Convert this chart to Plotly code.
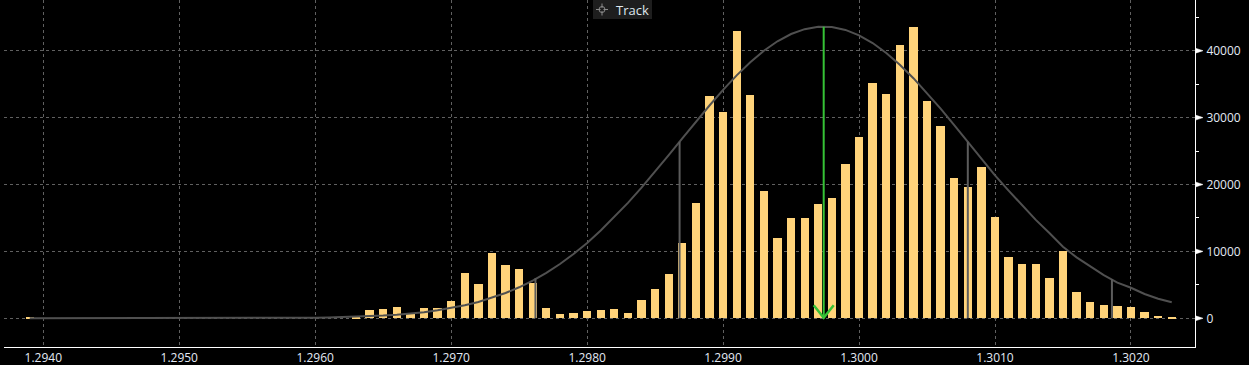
import plotly.graph_objects as go

# ---------------- data ----------------
bin_start = 1.2939
bin_step = 0.0001

counts = [
    80,
    0, 0, 0, 0, 0, 0, 0, 0, 0, 0, 0, 0, 0, 0, 0, 0, 0, 0, 0, 0, 0, 0, 0,
    250, 1240, 1390, 1700, 650, 1540, 1520, 2590, 6770, 5130,
    9760, 7970, 7370, 5280, 1540, 640, 790, 1090, 1240, 1390,
    790, 2740, 4380, 6620, 11250, 17230, 33230, 30840, 42950, 33380,
    19030, 12000, 14990, 14990, 17080, 17980, 23060, 27100, 35170, 33530,
    40850, 43540, 32430, 28690, 20970, 19630, 22620, 15140, 9160, 8120,
    8120, 6030, 10060, 3930, 2440, 1990, 1840, 1690, 940, 340,
    100,
]

curve = [
    0, 0, 0, 0, 0, 0, 0, 0, 1, 1, 2, 3, 4, 6,
    8, 11, 14, 20, 30, 43, 60, 84, 117, 162,
    221, 299, 401, 533, 703, 918, 1188, 1523, 1938, 2443,
    3052, 3777, 4636, 5634, 6793, 8114, 9611, 11270, 13115, 15113,
    17260, 19546, 21932, 24399, 26892, 29378, 31806, 34139, 36310, 38276,
    39986, 41407, 42493, 43221, 43569, 43530, 43107, 42301, 41145, 39667,
    37902, 35892, 33685, 31335, 28889, 26395, 23906, 21360, 19088, 16834,
    14706, 12740, 10700, 9104, 7744, 6457, 5333, 4560, 3628, 2926,
    2400,
]

bins = [round(bin_start + i * bin_step, 4) for i in range(len(counts))]

mean_x = 1.29974
mean_top = 43590
sigma_x = [1.29762, 1.29868, 1.30080, 1.30186]
sigma_top = [5980, 26400, 26400, 5830]

x_tick_vals = [1.2940, 1.2950, 1.2960, 1.2970, 1.2980, 1.2990, 1.3000, 1.3010, 1.3020]
y_tick_vals = [0, 10000, 20000, 30000, 40000]
legend_label = "Track"

# ---------------- layout geometry ----------------
W, H = 1249, 365
ML, MR, MT, MB = 4, 54, 0, 18
PW, PH = W - ML - MR, H - MT - MB


def px_x(p):
    return (p - ML) / PW


def px_y(p):
    return (H - MB - p) / PH


fig = go.Figure()

fig.add_trace(go.Bar(
    x=bins, y=counts, width=bin_step * 0.61,
    marker=dict(color="#ffd37a", line=dict(width=0)),
    hoverinfo="x+y",
))

fig.add_trace(go.Scatter(
    x=bins, y=curve, mode="lines",
    line=dict(color="#505050", width=2),
    hoverinfo="skip",
))

# sigma verticals
sx, sy = [], []
for xv, tv in zip(sigma_x, sigma_top):
    sx += [xv, xv, None]
    sy += [0, tv, None]
fig.add_trace(go.Scatter(
    x=sx, y=sy, mode="lines",
    line=dict(color="#5c5c5c", width=2),
    hoverinfo="skip",
))

# mean line
fig.add_trace(go.Scatter(
    x=[mean_x, mean_x], y=[0, mean_top], mode="lines",
    line=dict(color="#36c236", width=2),
    hoverinfo="skip",
))

shapes = []
# arrow chevron at mean base
shapes.append(dict(
    type="path", xref="x", yref="y", xsizemode="pixel", ysizemode="pixel",
    xanchor=mean_x, yanchor=0,
    path="M-10,13 L0,0.5 L10,13",
    line=dict(color="#36c236", width=2.5),
))

# y-axis triangle markers
for v in y_tick_vals:
    shapes.append(dict(
        type="path", xref="paper", yref="y", xsizemode="pixel", ysizemode="pixel",
        xanchor=1, yanchor=v,
        path="M0.5,-2.5 L0.5,2.5 L8,0 Z",
        fillcolor="white", line=dict(color="white", width=0.5),
    ))

# legend box
shapes.append(dict(
    type="rect", xref="paper", yref="paper", xsizemode="pixel", ysizemode="pixel",
    xanchor=px_x(593), yanchor=1, x0=0, x1=59, y0=0, y1=-19,
    fillcolor="#1e1e1e", line=dict(width=0), layer="above",
))
cx, cy = px_x(602), px_y(9.5)
shapes.append(dict(
    type="circle", xref="paper", yref="paper", xsizemode="pixel", ysizemode="pixel",
    xanchor=cx, yanchor=cy, x0=-3, x1=3, y0=-3, y1=3,
    line=dict(color="#8a8a8a", width=1), layer="above",
))
for seg in ["M-6,0 L-1.5,0", "M1.5,0 L6,0", "M0,-6 L0,-1.5", "M0,1.5 L0,6"]:
    shapes.append(dict(
        type="path", xref="paper", yref="paper", xsizemode="pixel", ysizemode="pixel",
        xanchor=cx, yanchor=cy, path=seg,
        line=dict(color="#8a8a8a", width=1), layer="above",
    ))

annotations = [dict(
    text=legend_label, xref="paper", yref="paper",
    x=px_x(614), y=px_y(9.5), xanchor="left", yanchor="middle",
    showarrow=False, font=dict(family="Open Sans", size=13, color="#dfe7ef"),
)]

tick_font = dict(family="Open Sans", size=12, color="#e3eaf5")

fig.update_layout(
    width=W, height=H,
    margin=dict(l=ML, r=MR, t=MT, b=MB, pad=0, autoexpand=False),
    paper_bgcolor="#000000", plot_bgcolor="#000000",
    showlegend=False, bargap=0,
    shapes=shapes, annotations=annotations,
    xaxis=dict(
        range=[1.293711, 1.302471], automargin=False,
        tickvals=x_tick_vals, tickformat=".4f",
        showgrid=True, gridcolor="#606060", griddash="3px,3px", gridwidth=1,
        zeroline=False, showline=True, linecolor="white", linewidth=1,
        ticks="", ticklabelstandoff=0,
        tickfont=tick_font,
    ),
    yaxis=dict(
        range=[-4290, 47578], side="right", automargin=False,
        tickvals=y_tick_vals, tickformat="d",
        showgrid=True, gridcolor="#606060", griddash="3px,3px", gridwidth=1,
        zeroline=False, showline=True, linecolor="white", linewidth=1,
        ticks="outside", ticklen=8, tickcolor="rgba(0,0,0,0)",
        tickfont=tick_font,
        minor=dict(dtick=5000, tick0=0, ticks="outside", ticklen=3,
                   tickcolor="white", tickwidth=1, showgrid=False),
    ),
)

fig.write_html(
    "out.html",
    config={"displayModeBar": False},
    post_script="document.body.style.margin='0px';document.body.style.background='#000';",
)
